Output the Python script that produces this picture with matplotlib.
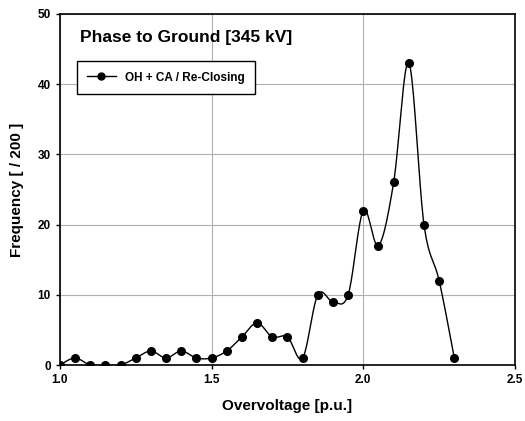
"""Phase to ground overvoltage distribution, 345 kV re-closing."""

import matplotlib
matplotlib.use("Agg")
import matplotlib.pyplot as plt
import numpy as np

plt.rcParams["font.family"] = ["Liberation Sans", "DejaVu Sans"]
plt.rcParams["font.weight"] = "bold"

overvoltage = [1.00, 1.05, 1.10, 1.15, 1.20, 1.25, 1.30, 1.35, 1.40, 1.45,
               1.50, 1.55, 1.60, 1.65, 1.70, 1.75, 1.80, 1.85, 1.90, 1.95,
               2.00, 2.05, 2.10, 2.15, 2.20, 2.25, 2.30]
frequency = [0, 1, 0, 0, 0, 1, 2, 1, 2, 1,
             1, 2, 4, 6, 4, 4, 1, 10, 9, 10,
             22, 17, 26, 43, 20, 12, 1]
x_ticks = [1.0, 1.5, 2.0, 2.5]
y_ticks = [0, 10, 20, 30, 40, 50]


def smooth_curve(x, y, n=20):
    # Catmull-Rom style smoothing like a spreadsheet "smoothed line"
    x = np.asarray(x, float)
    y = np.asarray(y, float)
    px = np.concatenate([[x[0]], x, [x[-1]]])
    py = np.concatenate([[y[0]], y, [y[-1]]])
    xs, ys = [], []
    t = np.linspace(0, 1, n, endpoint=False)
    for i in range(1, len(px) - 2):
        p0, p1, p2, p3 = [np.array([px[j], py[j]]) for j in range(i - 1, i + 3)]
        c1 = p1 + (p2 - p0) / 6
        c2 = p2 - (p3 - p1) / 6
        b = ((1 - t) ** 3)[:, None] * p1 + (3 * (1 - t) ** 2 * t)[:, None] * c1 \
            + (3 * (1 - t) * t ** 2)[:, None] * c2 + (t ** 3)[:, None] * p2
        xs.extend(b[:, 0])
        ys.extend(b[:, 1])
    xs.append(x[-1])
    ys.append(y[-1])
    return np.array(xs), np.array(ys)


fig = plt.figure(figsize=(5.25, 4.21), dpi=100)
ax = fig.add_axes([0.114, 0.133, 0.867, 0.834])

sx, sy = smooth_curve(overvoltage, frequency)
ax.plot(sx, sy, color="black", linewidth=1.0)
ax.plot(overvoltage, frequency, "o", color="black", markersize=5.5)
ax.plot([], [], "-o", color="black", markersize=5, linewidth=1.0,
        label="OH + CA / Re-Closing")

ax.set_xlim(1.0, 2.5)
ax.set_ylim(0, 50)
ax.set_xticks(x_ticks)
ax.set_yticks(y_ticks)
ax.set_xticklabels([f"{v:.1f}" for v in x_ticks], fontsize=8.5, fontweight="bold")
ax.set_yticklabels([str(v) for v in y_ticks], fontsize=8.5, fontweight="bold")
ax.tick_params(direction="out", length=3, width=1, colors="black")
ax.grid(True, color="#b0b0b0", linewidth=0.8)
ax.set_axisbelow(True)
for sp in ax.spines.values():
    sp.set_linewidth(1.2)

ax.set_xlabel("Overvoltage [p.u.]", fontsize=11, fontweight="bold", labelpad=9)
ax.set_ylabel("Frequency [ / 200 ]", fontsize=11, fontweight="bold", labelpad=10)

ax.text(1.065, 46.6, "Phase to Ground [345 kV]", fontsize=12.5,
        fontweight="bold", va="center", ha="left")

leg = ax.legend(loc="upper left", bbox_to_anchor=(0.037, 0.866), fancybox=False,
                edgecolor="black", framealpha=1,
                prop={"weight": "bold", "size": 8.5}, handlelength=2.4,
                borderpad=0.9, borderaxespad=0)
leg.get_frame().set_linewidth(1.0)

plt.savefig("out.png", dpi=100)
